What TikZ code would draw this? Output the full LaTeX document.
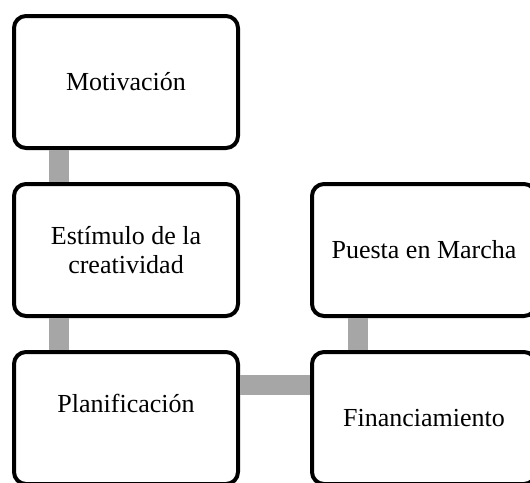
\documentclass[tikz,border=0pt]{standalone}
\usepackage{fontspec}
\setmainfont{Liberation Serif}
\definecolor{linkgray}{HTML}{A6A6A6}

\begin{document}
\begin{tikzpicture}[x=1pt,y=-1pt,inner sep=0pt,
stepbox/.style={draw,rectangle,rounded corners=12pt,line width=4pt,minimum width=224pt,minimum height=132pt,align=center,font=\fontsize{26}{29}\selectfont},
link/.style={draw=linkgray,line width=20pt}]
\useasboundingbox (0,0) rectangle (530,482);

\draw (126,82) node[stepbox] (mot) {Motivaci\'on};
\draw (126,250) node[stepbox] (est) {Est\'imulo de la\\creatividad};
\draw (126,418) node[stepbox] (plan) {Planificaci\'on\\~};
\draw (424,250) node[stepbox] (put) {Puesta en Marcha};
\draw (424,418) node[stepbox] (fin) {Financiamiento};
\draw[link] ([xshift=-67.5pt]mot.south) -- ([xshift=-67.5pt]est.north);
\draw[link] ([xshift=-67.5pt]est.south) -- ([xshift=-67.5pt]plan.north);
\draw[link] ([yshift=33pt]plan.east) -- ([yshift=33pt]fin.west);
\draw[link] ([xshift=-66.5pt]put.south) -- ([xshift=-66.5pt]fin.north);
\end{tikzpicture}
\end{document}
